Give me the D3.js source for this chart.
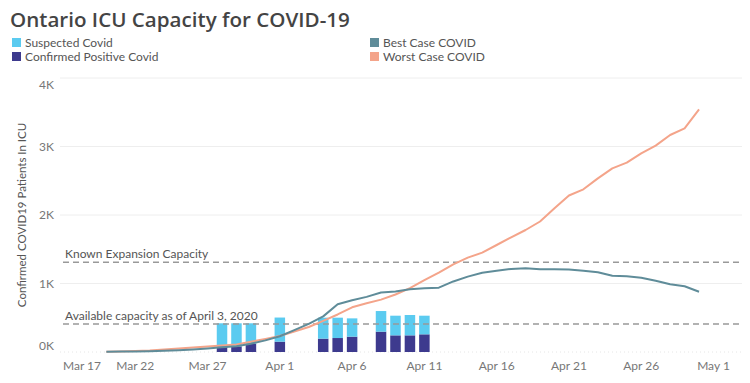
<!DOCTYPE html>
<html><head><meta charset="utf-8">
<script src="https://cdn.jsdelivr.net/npm/d3@7"></script>
<style>
body{margin:0;background:#fff;}
svg{display:block;font-family:Lato, "Open Sans", sans-serif;}
</style></head>
<body><svg id="c" width="750" height="383"></svg>
<script>
// ---- data ----
const lineDates = ["2020-03-20","2020-03-21","2020-03-22","2020-03-23","2020-03-24","2020-03-25","2020-03-26","2020-03-27","2020-03-28","2020-03-29","2020-03-30","2020-03-31","2020-04-01","2020-04-02","2020-04-03","2020-04-04","2020-04-05","2020-04-06","2020-04-07","2020-04-08","2020-04-09","2020-04-10","2020-04-11","2020-04-12","2020-04-13","2020-04-14","2020-04-15","2020-04-16","2020-04-17","2020-04-18","2020-04-19","2020-04-20","2020-04-21","2020-04-22","2020-04-23","2020-04-24","2020-04-25","2020-04-26","2020-04-27","2020-04-28","2020-04-29","2020-04-30"];
const bestCase = [5,6,8,12,18,27,38,52,68,85,120,170,230,320,410,520,698,755,805,868,882,915,929,939,1030,1100,1158,1187,1212,1221,1207,1207,1205,1187,1163,1114,1105,1085,1041,988,959,880];
const worstCase = [5,8,14,22,35,50,65,80,95,110,150,190,234,300,365,455,548,652,711,765,840,932,1048,1158,1280,1377,1450,1562,1674,1781,1905,2097,2285,2375,2535,2681,2764,2900,3012,3168,3265,3543];
const barDates = ["2020-03-28","2020-03-29","2020-03-30","2020-04-01","2020-04-04","2020-04-05","2020-04-06","2020-04-08","2020-04-09","2020-04-10","2020-04-11"];
const confirmed = [82,82,120,151,195,204,224,297,243,243,258];
const suspected = [337,337,299,352,306,297,267,301,287,297,272];
const knownExpansion = 1310;
const availableCapacity = 410;
const yTicks = [0,1000,2000,3000,4000];
const yTickLabels = ["0K","1K","2K","3K","4K"];
const xTicks = ["2020-03-17","2020-03-22","2020-03-27","2020-04-01","2020-04-06","2020-04-11","2020-04-16","2020-04-21","2020-04-26","2020-05-01"];
const xTickLabels = ["Mar 17","Mar 22","Mar 27","Apr 1","Apr 6","Apr 11","Apr 16","Apr 21","Apr 26","May 1"];

// ---- setup ----
const parse = d3.utcParse("%Y-%m-%d");
const svg = d3.select("#c");
const C = {sus:"#5BCBF0", conf:"#3D3A8E", best:"#5F8C99", worst:"#F4A48A", text:"#555", tick:"#777"};
const plotL = 60, plotR = 742;
const x = d3.scaleUtc().domain([parse("2020-03-17"), parse("2020-05-01")]).range([63, 713.5]);
const y = d3.scaleLinear().domain([0,4000]).range([352,78]);

// title
const title = svg.append("text").attr("x",10).attr("y",27).attr("font-size",21).attr("fill","#444")
  .style("font-family","'Open Sans', sans-serif").attr("font-weight",600)
  .text("Ontario ICU Capacity for COVID-19");
const tw = title.node().getComputedTextLength();
title.attr("font-size", 21*340/tw);

// legend
const legend = [
  {label:"Suspected Covid", color:C.sus, x:12, y:38},
  {label:"Confirmed Positive Covid", color:C.conf, x:12, y:52},
  {label:"Best Case COVID", color:C.best, x:370, y:38},
  {label:"Worst Case COVID", color:C.worst, x:370, y:52}
];
const lg = svg.append("g").selectAll("g").data(legend).join("g");
lg.append("rect").attr("x",d=>d.x).attr("y",d=>d.y).attr("width",9).attr("height",9).attr("fill",d=>d.color);
lg.append("text").attr("x",d=>d.x+13).attr("y",d=>d.y+8.5).attr("font-size",12).attr("fill",C.text).text(d=>d.label);

// gridlines
svg.append("g").selectAll("line").data(yTicks).join("line")
  .attr("x1",plotL).attr("x2",plotR).attr("y1",d=>y(d)).attr("y2",d=>y(d))
  .attr("stroke",d=>d===0?"#e6e6e6":"#eeeeee").attr("stroke-width",1)
  .attr("stroke-dasharray",d=>d===0?"1,3":null);

// y tick labels
svg.append("g").selectAll("text").data(yTicks).join("text")
  .attr("x",54).attr("text-anchor","end").attr("font-size",12).attr("fill",C.tick)
  .attr("y",d=>Math.min(Math.max(y(d),85),346)+4)
  .text((d,i)=>yTickLabels[i]);

// y title
svg.append("text").attr("transform",`translate(26,${(78+352)/2}) rotate(-90)`)
  .attr("text-anchor","middle").attr("font-size",11.5).attr("fill",C.text)
  .text("Confirmed COVID19 Patients In ICU");

// x tick labels
const xt = svg.append("g").selectAll("text").data(xTicks).join("text")
  .attr("y",370).attr("text-anchor","middle").attr("font-size",12).attr("fill",C.tick)
  .text((d,i)=>xTickLabels[i])
  .attr("x",d=>x(parse(d)));
xt.each(function(d){
  const w=this.getComputedTextLength();
  const cx=x(parse(d));
  if(cx-w/2<63) d3.select(this).attr("x",63+w/2);
});

// bars
const bw = 10.5;
const bars = svg.append("g").selectAll("g").data(barDates).join("g");
bars.append("rect").attr("x",d=>x(parse(d))-bw/2).attr("width",bw)
  .attr("y",(d,i)=>y(confirmed[i])).attr("height",(d,i)=>y(0)-y(confirmed[i])).attr("fill",C.conf);
bars.append("rect").attr("x",d=>x(parse(d))-bw/2).attr("width",bw)
  .attr("y",(d,i)=>y(confirmed[i]+suspected[i])).attr("height",(d,i)=>y(confirmed[i])-y(confirmed[i]+suspected[i])).attr("fill",C.sus);

// reference lines
const refs = [{v:knownExpansion,label:"Known Expansion Capacity"},{v:availableCapacity,label:"Available capacity as of April 3, 2020"}];
svg.append("g").selectAll("line").data(refs).join("line")
  .attr("x1",63).attr("x2",plotR).attr("y1",d=>y(d.v)).attr("y2",d=>y(d.v))
  .attr("stroke","#999").attr("stroke-width",1.5).attr("stroke-dasharray","6,4");
svg.append("g").selectAll("text").data(refs).join("text")
  .attr("x",65).attr("y",d=>y(d.v)-4).attr("font-size",12).attr("fill",C.text).text(d=>d.label);

// lines
const ld = lineDates.map(parse);
const line = d3.line().x((d,i)=>x(ld[i])).y(d=>y(d));
svg.append("path").datum(worstCase).attr("d",line).attr("fill","none").attr("stroke",C.worst).attr("stroke-width",2).attr("stroke-linejoin","round");
svg.append("path").datum(bestCase).attr("d",line).attr("fill","none").attr("stroke",C.best).attr("stroke-width",2).attr("stroke-linejoin","round");
</script></body></html>
